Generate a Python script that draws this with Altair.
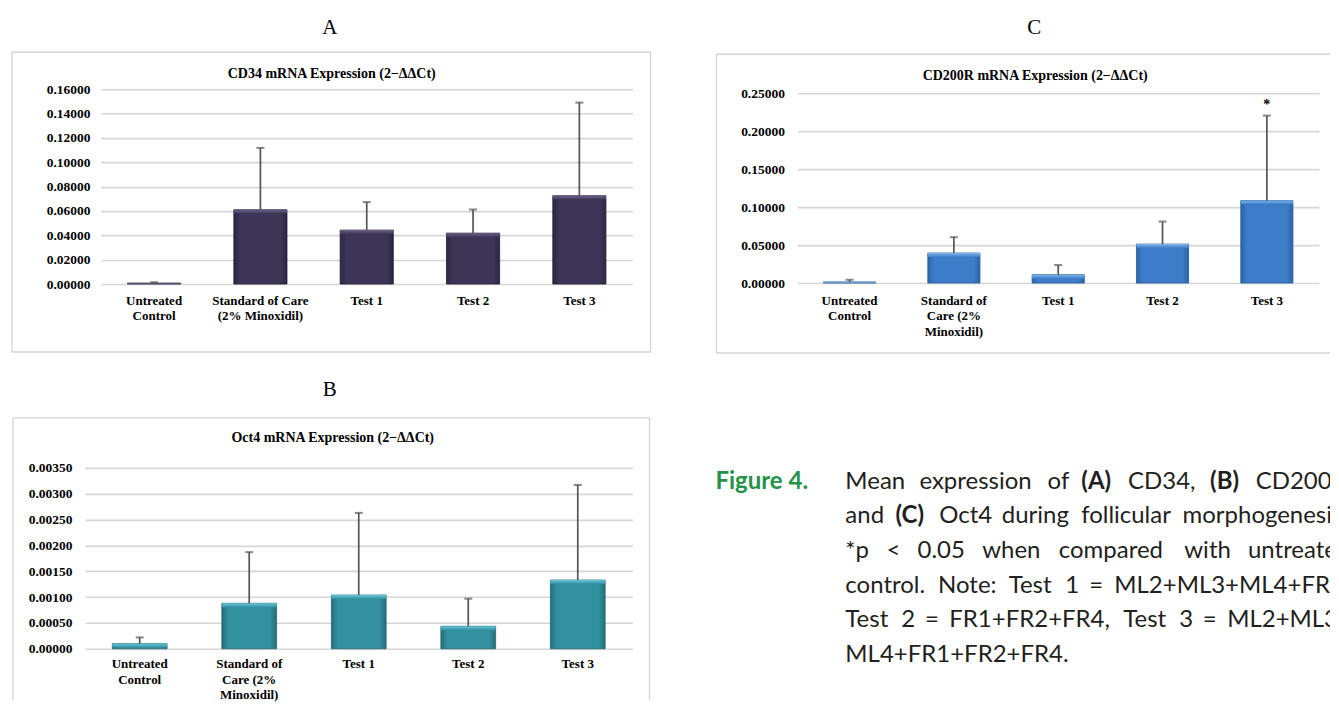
import altair as alt
import pandas as pd

# ---------------- data ----------------
categories = ["Untreated Control", "Standard of Care (2% Minoxidil)", "Test 1", "Test 2", "Test 3"]

cd34_mean = [0.0008, 0.0610, 0.0443, 0.0418, 0.0725]
cd34_upper = [0.0015, 0.1118, 0.0673, 0.0612, 0.1490]
cd34_ticks = [0.0, 0.02, 0.04, 0.06, 0.08, 0.10, 0.12, 0.14, 0.16]

cd200r_mean = [0.0015, 0.0395, 0.0110, 0.0513, 0.1087]
cd200r_upper = [0.0043, 0.0605, 0.0237, 0.0810, 0.2205]
cd200r_sig = ["", "", "", "", "*"]
cd200r_ticks = [0.0, 0.05, 0.10, 0.15, 0.20, 0.25]

oct4_mean = [0.00010, 0.00088, 0.00104, 0.000436, 0.00133]
oct4_upper = [0.00022, 0.00187, 0.00263, 0.00097, 0.00317]
oct4_ticks = [0.0, 0.0005, 0.0010, 0.0015, 0.0020, 0.0025, 0.0030, 0.0035]

labels_A = [["Untreated", "Control"], ["Standard of Care", "(2% Minoxidil)"],
            ["Test 1"], ["Test 2"], ["Test 3"]]
labels_BC = [["Untreated", "Control"], ["Standard of", "Care (2%", "Minoxidil)"],
             ["Test 1"], ["Test 2"], ["Test 3"]]

caption_head = "Figure 4."
caption_lines = [
    [("Mean", 0), ("expression", 0), ("of", 0), ("(A)", 1), ("CD34,", 0), ("(B)", 1), ("CD200R,", 0)],
    [("and", 0), ("(C)", 1), ("Oct4", 0), ("during", 0), ("follicular", 0), ("morphogenesis.", 0)],
    [("*p", 0), ("<", 0), ("0.05", 0), ("when", 0), ("compared", 0), ("with", 0), ("untreated", 0)],
    [("control.", 0), ("Note:", 0), ("Test", 0), ("1", 0), ("=", 0), ("ML2+ML3+ML4+FR4,", 0)],
    [("Test", 0), ("2", 0), ("=", 0), ("FR1+FR2+FR4,", 0), ("Test", 0), ("3", 0), ("=", 0), ("ML2+ML3+", 0)],
    [("ML4+FR1+FR2+FR4.", 0)],
]

# ---------------- style ----------------
SERIF = "Liberation Serif"
SANS = "Lato"
GRID = "#d6d6d6"
BOX = "#d4d4d4"
ERR = "#555555"
one = pd.DataFrame({"k": [0]})


def label_expr(lines):
    expr = "datum.label"
    for cat, parts in reversed(list(zip(categories, lines))):
        arr = "[" + ",".join("'" + p + "'" for p in parts) + "]"
        expr = f"datum.value == '{cat}' ? {arr} : ({expr})"
    return expr


def grad_h(edge, mid):
    return alt.LinearGradient(
        gradient="linear", x1=0, x2=1, y1=0, y2=0,
        stops=[alt.GradientStop(color=edge, offset=0),
               alt.GradientStop(color=mid, offset=0.12),
               alt.GradientStop(color=mid, offset=0.88),
               alt.GradientStop(color=edge, offset=1)])


def grad_v(top, bottom):
    return alt.LinearGradient(
        gradient="linear", x1=0, x2=0, y1=0, y2=1,
        stops=[alt.GradientStop(color=top, offset=0),
               alt.GradientStop(color=bottom, offset=1)])


def text_layer(txt, x, y, **kw):
    return alt.Chart(one).mark_text(text=txt, baseline="middle", **kw).encode(
        x=alt.value(x), y=alt.value(y))


def hrule(x1, x2, y):
    return alt.Chart(one).mark_rule(color=BOX, strokeWidth=1.3).encode(
        x=alt.value(x1), x2=alt.value(x2), y=alt.value(y))


def vrule(x, y1, y2):
    return alt.Chart(one).mark_rule(color=BOX, strokeWidth=1.3).encode(
        x=alt.value(x), y=alt.value(y1), y2=alt.value(y2))


def panel(means, uppers, ticks, width, height, xrange, yrange, cols, lines,
          y_pad, y_off, x_pad, title, title_xy, letter, letter_xy, frame, sig=None):
    df = pd.DataFrame({"category": categories, "mean": means, "upper": uppers})
    if sig is not None:
        df["sig"] = sig
    ymax = ticks[-1]
    px = abs(yrange[0] - yrange[1])
    hl_units = ymax * 4.0 / px
    xs = alt.Scale(domain=categories, range=xrange, paddingInner=0.5, paddingOuter=0.25)
    ys = alt.Scale(domain=[0, ymax], nice=False, range=yrange)
    x_axis = alt.Axis(title=None, labelAngle=0, domain=False, ticks=False, grid=False,
                      labelExpr=label_expr(lines), labelFont=SERIF, labelFontWeight="bold",
                      labelFontSize=13, labelColor="#000000", labelPadding=x_pad,
                      labelLineHeight=15.5, labelOverlap=False)
    y_axis = alt.Axis(title=None, values=ticks, format=".5f", domain=False, ticks=False,
                      grid=True, gridColor=GRID, gridWidth=1.6, labelFont=SERIF,
                      labelFontWeight="bold", labelFontSize=13.5, labelColor="#000000",
                      labelPadding=y_pad, offset=y_off, labelOverlap=False)
    base = alt.Chart(df)
    X = alt.X("category:N", scale=xs, axis=x_axis)
    Y = lambda f: alt.Y(f, type="quantitative", scale=ys, axis=y_axis)

    layers = list(frame)
    layers.append(base.mark_bar(color=grad_h(cols[0], cols[1]), stroke=cols[3],
                                strokeWidth=0.8).encode(x=X, y=Y("mean")))
    layers.append(base.transform_calculate(hb=f"max(0, datum.mean - {hl_units})")
                  .mark_bar(color=grad_v(cols[2], cols[1])).encode(
        x=X, y=Y("mean"), y2=alt.Y2("hb:Q")))
    layers.append(base.mark_rule(color=ERR, strokeWidth=1.7).encode(
        x=X, y=Y("mean"), y2=alt.Y2("upper:Q")))
    layers.append(base.mark_tick(color=ERR, thickness=2, size=8).encode(
        x=X, y=Y("upper")))
    if sig is not None:
        layers.append(base.mark_text(font=SERIF, fontWeight="bold", fontSize=14,
                                     baseline="middle", dy=-11, color="#000000").encode(
            x=X, y=Y("upper"), text="sig:N"))
    layers.append(text_layer(title, title_xy[0], title_xy[1], font=SERIF, fontWeight="bold",
                             fontSize=14, align="center", color="#000000"))
    layers.append(text_layer(letter, letter_xy[0], letter_xy[1], font=SERIF, fontSize=21,
                             align="center", color="#000000"))
    return alt.layer(*layers).properties(width=width, height=height)


# ---- panel A (CD34) : plot origin at page (85, 89)
frame_A = [
    alt.Chart(one).mark_rect(color="white").encode(
        x=alt.value(-77), x2=alt.value(-76), y=alt.value(-81), y2=alt.value(-80)),
    alt.Chart(one).mark_rect(fillOpacity=0, stroke=BOX, strokeWidth=1.3).encode(
        x=alt.value(-73), x2=alt.value(566), y=alt.value(-37), y2=alt.value(263)),
]
chart_A = panel(cd34_mean, cd34_upper, cd34_ticks, 548, 195, [16, 548], [195, 0],
                ["#2c2542", "#3d3456", "#6b6189", "#231d36"], labels_A,
                0, -5, 10, "CD34 mRNA Expression (2\u2212\u0394\u0394Ct)", (247, -15),
                "A", (245, -61), frame_A)

# ---- panel C (CD200R) : plot origin at page (798, 89)
frame_C = [hrule(-81, 533, -35), hrule(-81, 533, 264), vrule(-81, -35, 264)]
chart_C = panel(cd200r_mean, cd200r_upper, cd200r_ticks, 522, 195, [0, 522], [194, 4],
                ["#2b64a9", "#3c7cc8", "#7db6ea", "#245a98"], labels_BC,
                13, 0, 10, "CD200R mRNA Expression (2\u2212\u0394\u0394Ct)", (238, -13),
                "C", (237, -61), frame_C, sig=cd200r_sig)

# ---- panel B (Oct4) : plot origin at page (85, 468)
frame_B = [hrule(-72, 565, -50), vrule(-72, -50, 232), vrule(565, -50, 232)]
chart_B = panel(oct4_mean, oct4_upper, oct4_ticks, 548, 181, [0, 548], [181, 0],
                ["#236f7d", "#32909f", "#66c6da", "#1f6673"], labels_BC,
                13, 0, 9, "Oct4 mRNA Expression (2\u2212\u0394\u0394Ct)", (248, -30),
                "B", (245, -78), frame_B)

# ---- caption : origin at page (798, 468)
WID = {" ": 0.2, ".": 0.24, ",": 0.24, ":": 0.24, "(": 0.31, ")": 0.31, "+": 0.58,
       "=": 0.58, "<": 0.58, "*": 0.42, "M": 0.86, "L": 0.50, "F": 0.52, "R": 0.60,
       "T": 0.56, "C": 0.66, "D": 0.72, "A": 0.66, "B": 0.62, "N": 0.74, "O": 0.76,
       "a": 0.49, "b": 0.55, "c": 0.44, "d": 0.55, "e": 0.51, "f": 0.30, "g": 0.50,
       "h": 0.55, "i": 0.23, "l": 0.23, "m": 0.83, "n": 0.55, "o": 0.54, "p": 0.55,
       "r": 0.35, "s": 0.41, "t": 0.33, "u": 0.55, "w": 0.74, "x": 0.46, "y": 0.47}
CAP_SIZE = 24
WSCALE = 1.07
X0, XR = 846 - 798, 1356 - 798
LINE_Y = [482, 516, 551, 586, 620, 655]


def wlen(s, bold):
    return sum(WID.get(ch, 0.55) for ch in s) * CAP_SIZE * WSCALE * (1.05 if bold else 1.0)


cap_layers = [text_layer(caption_head, 716 - 798, LINE_Y[0] - 468, font=SANS,
                         fontWeight="bold", fontSize=CAP_SIZE, align="left",
                         color="#25924a")]
for i, words in enumerate(caption_lines):
    y = LINE_Y[i] - 468
    widths = [wlen(w, b) for w, b in words]
    if i < len(caption_lines) - 1 and len(words) > 1:
        gap = (XR - X0 - sum(widths)) / (len(words) - 1)
    else:
        gap = WID[" "] * CAP_SIZE
    x = X0
    for (w, b), wd in zip(words, widths):
        cap_layers.append(text_layer(w, x, y, font=SANS, fontSize=CAP_SIZE, align="left",
                                     fontWeight="bold" if b else "normal",
                                     color="#231f20", clip=True))
        x += wd + gap
caption = alt.layer(*cap_layers).properties(width=533, height=210)

chart = alt.concat(chart_A, chart_C, chart_B, caption, columns=2,
                   spacing={"row": 184, "column": 165}, bounds="flush").properties(
    padding=0, background="white").configure_view(stroke=None)

chart.save("out.html", embed_options={"renderer": "svg", "actions": False})
